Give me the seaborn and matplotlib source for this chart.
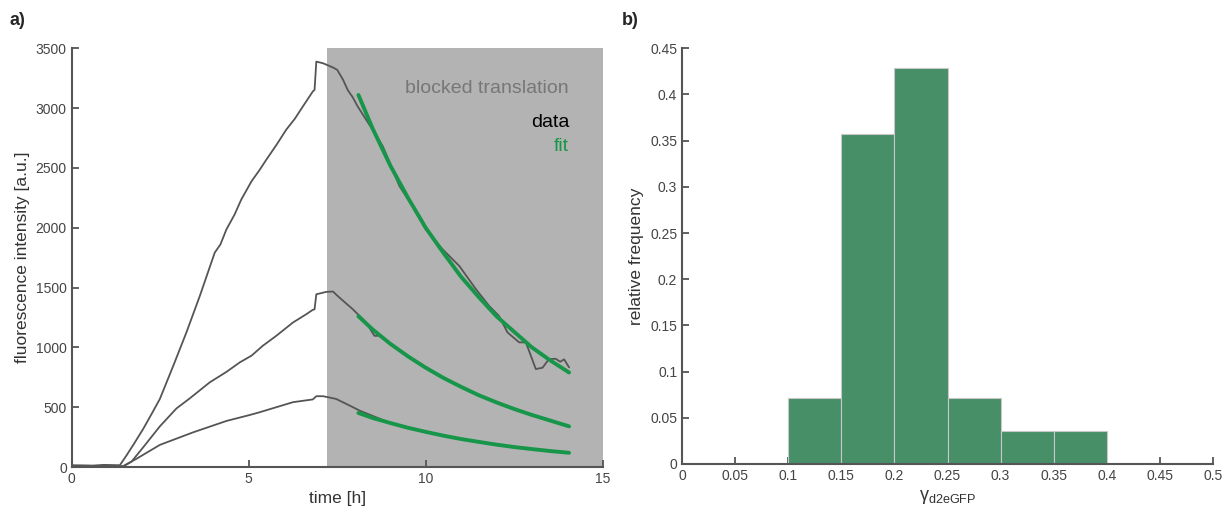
import numpy as np
import pandas as pd
import matplotlib
matplotlib.use("Agg")
import matplotlib.pyplot as plt
from matplotlib.ticker import FormatStrFormatter
import seaborn as sns

# ---- data ----
# panel a) raw traces
t1 = [0, 0.3, 0.6, 0.9, 1.2, 1.36, 1.55, 1.75, 2.02, 2.25, 2.49, 2.87, 3.24, 3.62, 4.04,
      4.2, 4.37, 4.6, 4.79, 5.08, 5.3, 5.5, 5.8, 6.06, 6.3, 6.53, 6.81, 6.86, 6.91, 7.1,
      7.38, 7.5, 7.66, 7.8, 7.94, 8.08, 8.5, 8.79, 9.26, 9.63, 10.0, 10.48, 10.95, 11.42,
      11.79, 12.07, 12.31, 12.64, 12.83, 13.11, 13.3, 13.48, 13.67, 13.8, 13.91, 14.05]
v1 = [15, 14, 12, 18, 16, 15, 98, 190, 319, 440, 569, 847, 1125, 1431, 1792,
      1860, 1986, 2110, 2236, 2389, 2480, 2570, 2700, 2820, 2910, 3014, 3139, 3153, 3389, 3375,
      3340, 3320, 3240, 3150, 3090, 3013, 2819, 2680, 2347, 2180, 1986, 1819, 1680, 1486,
      1347, 1263, 1125, 1042, 1042, 819, 830, 902, 905, 880, 900, 833]

t2 = [0, 0.4, 0.8, 1.2, 1.45, 1.69, 2.02, 2.49, 2.96, 3.34, 3.9, 4.37, 4.75, 5.08,
      5.4, 5.78, 6.25, 6.63, 6.81, 6.86, 6.91, 7.19, 7.38, 7.56, 7.94, 8.32, 8.55,
      8.69, 9.5, 10.5, 11.5, 12.5, 13.5, 14.05]
v2 = [5, 6, 8, 7, 5, 45, 165, 340, 490, 575, 708, 795, 875, 931,
      1014, 1097, 1208, 1278, 1314, 1318, 1444, 1464, 1467, 1417, 1319, 1208, 1097,
      1097, 925, 745, 600, 485, 390, 340]

t3 = [0, 0.4, 0.8, 1.2, 1.45, 1.83, 2.49, 3.43, 4.37, 5.03, 5.31, 5.78, 6.25, 6.81,
      6.91, 7.1, 7.47, 7.85, 8.13, 9, 10, 11, 12, 13, 14.05]
v3 = [4, 5, 6, 5, 6, 69, 185, 290, 385, 435, 458, 500, 542, 565,
      592, 592, 569, 514, 472, 368, 294, 234, 187, 150, 119]

# exponential fits
t_fit = [8.1, 8.5, 9, 9.5, 10, 10.5, 11, 11.5, 12, 12.5, 13, 13.5, 14.05]
fit1 = [3110, 2830, 2520, 2250, 2000, 1790, 1590, 1420, 1260, 1130, 1000, 895, 790]
fit2 = [1260, 1150, 1030, 925, 830, 745, 670, 600, 540, 485, 435, 390, 340]
fit3 = [452, 410, 368, 328, 294, 262, 234, 210, 187, 167, 150, 134, 119]

block_start = 7.2

# panel b) histogram of decay rates
bin_edges = [0.1, 0.15, 0.2, 0.25, 0.3, 0.35, 0.4]
bin_centers = [0.125, 0.175, 0.225, 0.275, 0.325, 0.375]
rel_freq = [0.0714, 0.3571, 0.4286, 0.0714, 0.0357, 0.0357]

# ---- style ----
sns.set_style("ticks")
plt.rcParams['font.family'] = ['Liberation Sans', 'DejaVu Sans']
plt.rcParams['mathtext.fontset'] = 'custom'
plt.rcParams['mathtext.rm'] = 'Liberation Sans'
plt.rcParams['mathtext.it'] = 'Liberation Sans'

axis_col = '#555555'
data_col = '#555555'
fit_col = '#17964a'
hist_col = '#468f67'

fig = plt.figure(figsize=(12.28, 5.14), dpi=100)
ax1 = fig.add_axes([0.0584, 0.0914, 0.4324, 0.8146])
ax2 = fig.add_axes([0.5554, 0.0973, 0.4324, 0.8088])

# ---- panel a ----
ax1.axvspan(block_start, 15, color='#b3b3b3', lw=0, zorder=0)
for t, v in [(t1, v1), (t2, v2), (t3, v3)]:
    sns.lineplot(x=t, y=v, ax=ax1, color=data_col, lw=1.3, estimator=None, zorder=2)
for f in [fit1, fit2, fit3]:
    sns.lineplot(x=t_fit, y=f, ax=ax1, color=fit_col, lw=2.8, estimator=None, zorder=3)

ax1.set_xlim(0, 15)
ax1.set_ylim(0, 3500)
ax1.set_xticks([0, 5, 10, 15])
ax1.set_yticks(np.arange(0, 3501, 500))
ax1.set_xlabel("time [h]", fontsize=12.5, color='#333333')
ax1.set_ylabel("fluorescence intensity [a.u.]", fontsize=12.5, color='#333333')

ax1.text(14.05, 3160, "blocked translation", ha='right', va='center', fontsize=14, color='#777777')
ax1.text(14.05, 2880, "data", ha='right', va='center', fontsize=14, color='black')
ax1.text(14.05, 2680, "fit", ha='right', va='center', fontsize=14, color=fit_col)

# ---- panel b ----
sns.histplot(x=bin_centers, weights=rel_freq, bins=bin_edges, ax=ax2,
             color=hist_col, alpha=1, edgecolor='#c8c8c8', linewidth=0.8)
ax2.set_xlim(0, 0.5)
ax2.set_ylim(0, 0.45)
ax2.set_xticks(np.arange(0, 0.501, 0.05))
ax2.set_yticks(np.arange(0, 0.451, 0.05))
ax2.xaxis.set_major_formatter(FormatStrFormatter('%g'))
ax2.yaxis.set_major_formatter(FormatStrFormatter('%g'))
ax2.set_xlabel(r"$\gamma_{\mathrm{d2eGFP}}$", fontsize=13, color='#333333')
ax2.set_ylabel("relative frequency", fontsize=12.5, color='#333333')

for ax in (ax1, ax2):
    sns.despine(ax=ax)
    for s in ('left', 'bottom'):
        ax.spines[s].set_color(axis_col)
        ax.spines[s].set_linewidth(1.5)
    ax.tick_params(direction='in', length=5, width=1.3, color=axis_col,
                   labelcolor='#444444', labelsize=10)

fig.text(0.008, 0.961, "a)", fontsize=13, fontweight='bold', va='center')
fig.text(0.506, 0.961, "b)", fontsize=13, fontweight='bold', va='center')

fig.savefig("out.png", dpi=100)
